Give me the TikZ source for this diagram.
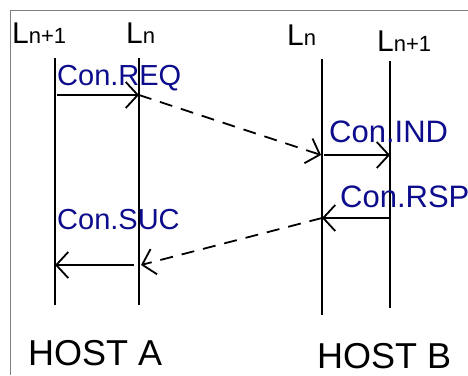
\documentclass[tikz,border=0pt]{standalone}
\usepackage{fontspec}
\setmainfont{Liberation Sans}
\usetikzlibrary{arrows.meta}
\definecolor{ink}{RGB}{12,12,140}

\begin{document}
\begin{tikzpicture}[x=1pt,y=-1pt,
  layer/.style={font=\fontsize{30}{30}\selectfont, inner sep=0pt, anchor=base west},
  msg/.style={font=\fontsize{29}{29}\selectfont, text=ink, inner sep=0pt, anchor=base west},
  host/.style={font=\fontsize{36}{36}\selectfont, inner sep=0pt, anchor=base west},
  life/.style={line width=2pt},
  call/.style={line width=1.8pt, -{Straight Barb[length=12pt,width=26pt,line width=1.8pt]}},
  remote/.style={call, dash pattern=on 13pt off 9pt}]
\useasboundingbox (0,0) rectangle (468,375);
\draw[gray] (10,375) -- (10,10) -- (468,10);

% layer names
\node[layer] (aup) at (12,43) {L{\fontsize{22}{22}\selectfont n+1}};
\node[layer] (alo) at (126,43) {L{\fontsize{22}{22}\selectfont n}};
\node[layer] (blo) at (287,45) {L{\fontsize{22}{22}\selectfont n}};
\node[layer] (bup) at (377,51) {L{\fontsize{22}{22}\selectfont n+1}};

% lifelines
\coordinate (aupT) at (55,58);  \coordinate (aupB) at (55,305);
\coordinate (aloT) at (139,58); \coordinate (aloB) at (139,305);
\coordinate (bloT) at (322,59); \coordinate (bloB) at (322,315);
\coordinate (bupT) at (390,61); \coordinate (bupB) at (390,308);
\draw[life] (aupT) -- (aupB);
\draw[life] (aloT) -- (aloB);
\draw[life] (bloT) -- (bloB);
\draw[life] (bupT) -- (bupB);

% message points
\coordinate (req0) at (57,95);  \coordinate (req1) at (139,95);
\coordinate (ind0) at (324,155); \coordinate (ind1) at (390,155);
\coordinate (rsp0) at (390,218); \coordinate (rsp1) at (322,218);
\coordinate (suc0) at (134,265); \coordinate (suc1) at (55,265);
\coordinate (pdu1) at (321,155);
\coordinate (pdu2) at (141,265);

\draw[call] (req0) -- (req1);
\draw[remote] (req1) -- (pdu1);
\draw[call] (ind0) -- (ind1);
\draw[call] (rsp0) -- (rsp1);
\draw[remote] (rsp1) -- (pdu2);
\draw[call] (suc0) -- (suc1);

\node[msg] (reqtxt) at (57,85) {Con.REQ};
\node[msg, font=\fontsize{31}{31}\selectfont] (indtxt) at (329,142) {Con.IND};
\node[msg, font=\fontsize{31}{31}\selectfont] (rsptxt) at (340,207) {Con.RSP};
\node[msg] (suctxt) at (57,229) {Con.SUC};

% hosts
\node[host] (hosta) at (28,365) {HOST A};
\node[host] (hostb) at (317,368) {HOST B};
\end{tikzpicture}
\end{document}
